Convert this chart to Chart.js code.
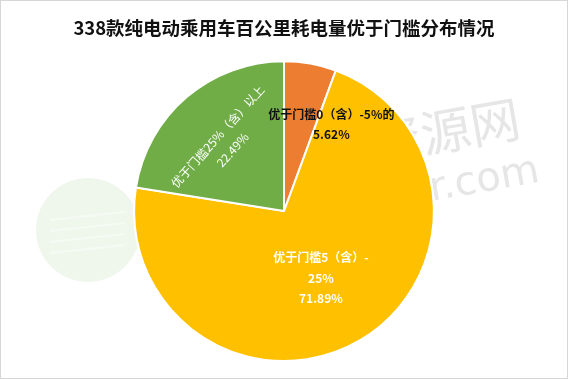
<!DOCTYPE html>
<html>
<head>
<meta charset="utf-8">
<script src="https://cdn.jsdelivr.net/npm/chart.js@4.4.1/dist/chart.umd.min.js"></script>
<style>
  html, body { margin: 0; padding: 0; background: #fff; }
  canvas { display: block; }
</style>
</head>
<body>
<canvas id="c" width="568" height="379"></canvas>
<script>
// ---- data ----
const titleText = '338款纯电动乘用车百公里耗电量优于门槛分布情况';
const categories = ['优于门槛0（含）-5%的', '优于门槛5（含）-25%', '优于门槛25%（含）以上'];
const values = [5.62, 71.89, 22.49];
const labelLines = [
  ['优于门槛0（含）-5%的'],
  ['优于门槛5（含）-', '25%'],
  ['优于门槛25%（含）以上']
];
const colors = ['#ED7D31', '#FFC000', '#70AD47'];

const FONT = '"Microsoft YaHei", "Noto Sans CJK SC", "Noto Sans", sans-serif';

// label style per slice (angle offset in degrees from slice middle, radius fraction, rotation, colour, weight)
const labelStyle = [
  { dAngle: 18.5, r: 0.66, rot: 0,   color: '#111', weight: 'bold', gap: 20 },
  { dAngle: 1.5,  r: 0.51, rot: 0,   color: '#fff', weight: 'bold', gap: 20.5 },
  { dAngle: -0.4, r: 0.60, rot: -48, color: '#fff', weight: 'normal', gap: 20 }
];

const bgPlugin = {
  id: 'bg',
  beforeDraw(chart) {
    const ctx = chart.ctx;
    ctx.save();
    ctx.fillStyle = '#fff';
    ctx.fillRect(0, 0, chart.width, chart.height);
    // faint watermark
    ctx.fillStyle = '#eff7ec';
    ctx.beginPath();
    ctx.arc(88, 230, 52, 0, Math.PI * 2);
    ctx.fill();
    ctx.strokeStyle = '#f6faf4';
    ctx.lineWidth = 2;
    for (let i = 0; i < 4; i++) {
      ctx.beginPath();
      ctx.moveTo(50, 220 + i * 11);
      ctx.lineTo(125, 212 + i * 11);
      ctx.stroke();
    }
    ctx.translate(470, 125);
    ctx.rotate(-10 * Math.PI / 180);
    ctx.fillStyle = '#e6e6e6';
    ctx.font = '50px ' + FONT;
    ctx.textAlign = 'right';
    ctx.textBaseline = 'alphabetic';
    ctx.fillText('电车资源网', 50, 20);
    ctx.font = '40px "DejaVu Sans", sans-serif';
    ctx.fillText('evpartner.com', 60, 68);
    ctx.restore();
  },
  afterDraw(chart) {
    const ctx = chart.ctx;
    ctx.save();
    ctx.strokeStyle = '#d6d6d6';
    ctx.lineWidth = 1;
    ctx.strokeRect(0.5, 0.5, chart.width - 1, chart.height - 1);
    ctx.restore();
  }
};

const labelPlugin = {
  id: 'sliceLabels',
  afterDatasetsDraw(chart) {
    const ctx = chart.ctx;
    const meta = chart.getDatasetMeta(0);
    meta.data.forEach((arc, i) => {
      const p = arc.getProps(['x', 'y', 'startAngle', 'endAngle', 'outerRadius']);
      const st = labelStyle[i];
      const mid = (p.startAngle + p.endAngle) / 2 + st.dAngle * Math.PI / 180;
      const rr = p.outerRadius * st.r;
      const cx = p.x + Math.cos(mid) * rr;
      const cy = p.y + Math.sin(mid) * rr;
      const lines = labelLines[i].concat([values[i].toFixed(2) + '%']);
      ctx.save();
      ctx.translate(cx, cy);
      ctx.rotate(st.rot * Math.PI / 180);
      ctx.fillStyle = st.color;
      ctx.font = st.weight + ' 12px ' + FONT;
      ctx.textAlign = 'center';
      ctx.textBaseline = 'middle';
      const n = lines.length;
      lines.forEach((t, k) => {
        ctx.fillText(t, 0, (k - (n - 1) / 2) * st.gap);
      });
      ctx.restore();
    });
  }
};

new Chart(document.getElementById('c'), {
  type: 'pie',
  data: {
    labels: categories,
    datasets: [{
      data: values,
      backgroundColor: colors,
      borderColor: '#ffffff',
      borderWidth: 2
    }]
  },
  options: {
    responsive: false,
    devicePixelRatio: 1,
    animation: false,
    layout: { padding: { top: 0, bottom: 17, left: 0, right: 0 } },
    plugins: {
      legend: { display: false },
      tooltip: { enabled: false },
      title: {
        display: true,
        text: titleText,
        color: '#111111',
        font: { size: 18.5, weight: 'bold', family: FONT, lineHeight: 1.2 },
        padding: { top: 17, bottom: 21 }
      }
    }
  },
  plugins: [bgPlugin, labelPlugin]
});
</script>
</body>
</html>
